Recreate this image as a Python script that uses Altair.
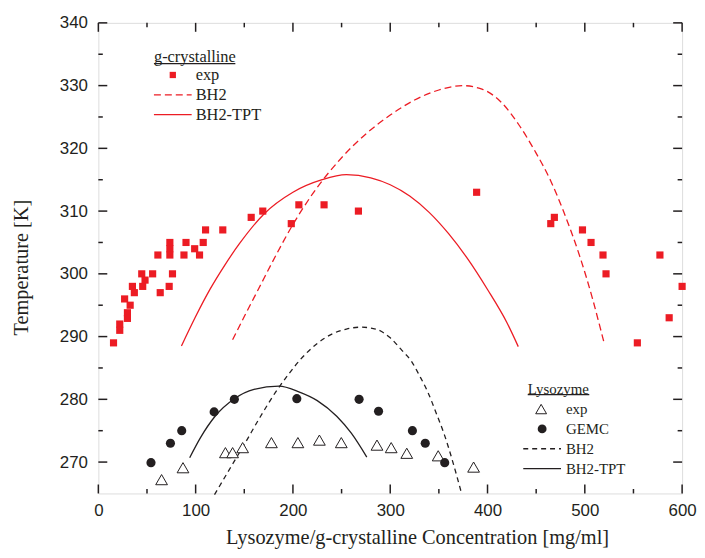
import altair as alt
import pandas as pd

# ---------------- data ----------------
# g-crystalline experiment (red squares)
gc_exp_x = [15.6, 22, 22, 27, 29.9, 29.9, 32.7, 35, 37, 44.6, 45.6, 48, 55.8, 61.2, 63.6,
            72.8, 73.5, 73.5, 73.5, 76.2, 88, 90.1, 99, 104, 107.8, 110.2, 127.9, 157.1,
            169, 198.3, 206.1, 232, 267.3, 388.8, 465, 468.7, 497.6, 506.4, 518.7, 521.8,
            554, 577.2, 586.7, 600]
gc_exp_y = [289, 292, 291, 296, 293.8, 292.9, 295, 298, 297, 300, 298, 299, 300, 303, 297,
            298, 305, 304, 303, 300, 303, 305, 304, 303, 305, 307, 307, 309,
            310, 308, 311, 311, 310, 313, 308, 309, 307, 305, 303, 300,
            289, 303, 293, 298]

# g-crystalline BH2 (red dashed)
gc_bh2_x = [138, 150, 165, 182, 199, 220, 250, 275, 300, 325, 350, 374, 395, 415,
            432, 449, 465, 478, 495, 508, 516, 519.5]
gc_bh2_y = [289.5, 293.2, 297.7, 302.8, 307.6, 312.7, 318.5, 322.3, 325.3, 327.7, 329.3,
            330.0, 329.4, 327.2, 323.8, 319.5, 314.8, 310.0, 302.7, 296.0, 291.3, 289.2]

# g-crystalline BH2-TPT (red solid)
gc_tpt_x = [85.4, 100, 115, 130, 145, 170, 200, 230, 255, 280, 300, 320, 340, 360, 380,
            400, 420, 431.6]
gc_tpt_y = [288.5, 293.2, 297.6, 301.4, 304.8, 309.5, 313.0, 315.0, 315.8, 315.3, 314.2,
            312.4, 309.8, 306.4, 302.3, 297.5, 292.2, 288.4]

# Lysozyme experiment (open triangles)
ly_exp_x = [65, 87, 130.6, 138, 148.3, 177.9, 205.1, 227.2, 249.7, 286.4, 301, 317, 349.3, 385.7]
ly_exp_y = [267.2, 269.1, 271.5, 271.5, 272.3, 273.1, 273.1, 273.5, 273.1, 272.7, 272.3,
            271.4, 271.0, 269.2]

# Lysozyme GEMC (filled circles)
ly_gemc_x = [54.1, 74.1, 85.7, 119, 139.8, 204, 268, 288, 322.8, 336, 356]
ly_gemc_y = [269.9, 273, 275, 278, 280, 280.1, 280, 278.1, 275, 273, 269.9]

# Lysozyme BH2 (black dashed)
ly_bh2_x = [119.4, 135, 150, 166, 182, 195, 208, 225, 240, 255, 270, 285, 300, 312, 321.7,
            330, 338.8, 347, 355.8, 364, 372.8]
ly_bh2_y = [264.8, 268.9, 272.8, 277.1, 281.1, 283.9, 286.4, 288.9, 290.4, 291.2, 291.5,
            291.2, 289.8, 287.8, 286.1, 283.8, 281.1, 277.9, 274.3, 270.2, 265.3]

# Lysozyme BH2-TPT (black solid)
ly_tpt_x = [93.9, 105, 120, 139.8, 160, 185.7, 206.1, 225, 245, 260, 275.9]
ly_tpt_y = [270.7, 273.9, 277.3, 280.1, 281.6, 282.1, 281.2, 279.8, 277.3, 274.6, 270.8]

x_major = [0, 100, 200, 300, 400, 500, 600]
x_minor = [50, 150, 250, 350, 450, 550]
y_major = [270, 280, 290, 300, 310, 320, 330, 340]
y_minor = [275, 285, 295, 305, 315, 325, 335]

# ---------------- styling ----------------
RED = "#ec1c24"
INK = "#231f20"
W, H = 588, 474
SERIF = "Liberation Serif"
SANS = "Liberation Sans"

xs = alt.Scale(domain=[0, 600], nice=False, zero=False)
ys = alt.Scale(domain=[265, 340], nice=False, zero=False)


def df(x, y):
    return pd.DataFrame({"x": x, "y": y})


def enc(chart, **kw):
    return chart.encode(
        x=alt.X("x:Q", scale=xs, axis=None),
        y=alt.Y("y:Q", scale=ys, axis=None),
        **kw,
    )


gc_exp = enc(alt.Chart(df(gc_exp_x, gc_exp_y)).mark_point(
    shape="square", filled=True, color=RED, size=52, opacity=1))
gc_bh2 = enc(alt.Chart(df(gc_bh2_x, gc_bh2_y)).mark_line(
    color=RED, strokeWidth=1.3, strokeDash=[7, 4], interpolate="monotone"))
gc_tpt = enc(alt.Chart(df(gc_tpt_x, gc_tpt_y)).mark_line(
    color=RED, strokeWidth=1.3, interpolate="monotone"))
ly_exp = enc(alt.Chart(df(ly_exp_x, ly_exp_y)).mark_point(
    shape="triangle-up", filled=False, color=INK, fill="white", fillOpacity=1,
    size=140, strokeWidth=1, opacity=1))
ly_gemc = enc(alt.Chart(df(ly_gemc_x, ly_gemc_y)).mark_point(
    shape="circle", filled=True, color=INK, size=85, opacity=1))
ly_bh2 = enc(alt.Chart(df(ly_bh2_x, ly_bh2_y)).mark_line(
    color=INK, strokeWidth=1.3, strokeDash=[5, 4], interpolate="monotone"))
ly_tpt = enc(alt.Chart(df(ly_tpt_x, ly_tpt_y)).mark_line(
    color=INK, strokeWidth=1.3, interpolate="monotone"))

# ---------------- axes: labels + titles ----------------
ax_main = alt.Chart(df(gc_exp_x, gc_exp_y)).mark_point(opacity=0).encode(
    x=alt.X("x:Q", scale=xs, axis=alt.Axis(
        orient="bottom", values=x_major, ticks=False, domain=False, grid=False,
        labelFont=SANS, labelFontSize=17, labelColor=INK, labelPadding=9,
        labelFlush=False,
        title="Lysozyme/g-crystalline Concentration [mg/ml]",
        titleFont=SERIF, titleFontSize=20.5, titleFontWeight="normal",
        titleColor=INK, titleX=321, titleY=44, titleBaseline="middle",
        titleAlign="center")),
    y=alt.Y("y:Q", scale=ys, axis=alt.Axis(
        orient="left", values=y_major, ticks=False, domain=False, grid=False,
        labelFont=SANS, labelFontSize=17, labelColor=INK, labelPadding=11,
        labelFlush=False,
        title="Temperature [K]", titleFont=SERIF, titleFontSize=20.5,
        titleFontWeight="normal", titleColor=INK, titleX=-77, titleY=246,
        titleAngle=270, titleBaseline="middle", titleAlign="center")),
)

# ---------------- inward ticks on all four sides ----------------


def xticks(vals, y1, y2):
    return alt.Chart(pd.DataFrame({"v": vals})).mark_rule(color=INK, strokeWidth=1.5).encode(
        x=alt.X("v:Q", scale=xs, axis=None), y=alt.value(y1), y2=alt.value(y2))


def yticks(vals, x1, x2):
    return alt.Chart(pd.DataFrame({"v": vals})).mark_rule(color=INK, strokeWidth=1.5).encode(
        y=alt.Y("v:Q", scale=ys, axis=None), x=alt.value(x1), x2=alt.value(x2))


ticks = [
    xticks(x_major, H, H - 9), xticks(x_minor, H, H - 4.5),
    xticks(x_major, 0, 9), xticks(x_minor, 0, 4.5),
    yticks(y_major, 0, 9), yticks(y_minor, 0, 4.5),
    yticks(y_major, W, W - 9), yticks(y_minor, W, W - 4.5),
]

# ---------------- hand-made legends ----------------
one = pd.DataFrame({"k": [0]})


def txt(s, x, y, size):
    return alt.Chart(one).mark_text(
        text=s, font=SERIF, fontSize=size, color=INK, align="left", baseline="middle"
    ).encode(x=alt.value(x), y=alt.value(y))


def seg(x1, x2, y, color, dash=None):
    kw = dict(color=color, strokeWidth=1.3)
    if dash:
        kw["strokeDash"] = dash
    return alt.Chart(one).mark_rule(**kw).encode(
        x=alt.value(x1), x2=alt.value(x2), y=alt.value(y))


def sym(x, y, shape, color, size, filled=True):
    kw = dict(shape=shape, color=color, size=size, opacity=1)
    if filled:
        kw["filled"] = True
    else:
        kw.update(filled=False, fill="white", fillOpacity=1, strokeWidth=1)
    return alt.Chart(one).mark_point(**kw).encode(x=alt.value(x), y=alt.value(y))


legend = [
    txt("g-crystalline", 56, 34, 16.5),
    seg(56, 138, 41, INK),
    sym(75, 52.5, "square", RED, 40),
    txt("exp", 98, 52.5, 16.5),
    seg(56, 94, 72.5, RED, [7, 4]),
    txt("BH2", 98, 72.5, 16.5),
    seg(56, 94, 92.5, RED),
    txt("BH2-TPT", 98, 92.5, 16.5),
    txt("Lysozyme", 432.5, 368.5, 15),
    seg(432.5, 494.5, 374.5, INK),
    sym(446, 389, "triangle-up", INK, 120, filled=False),
    txt("exp", 471, 389, 15),
    sym(447, 409, "circle", INK, 80),
    txt("GEMC", 471, 409, 15),
    seg(428, 466, 429, INK, [5, 4]),
    txt("BH2", 471, 429, 15),
    seg(428, 466, 449, INK),
    txt("BH2-TPT", 471, 449, 15),
]

chart = alt.layer(
    ax_main, *ticks,
    gc_tpt, gc_bh2, ly_tpt, ly_bh2, gc_exp, ly_exp, ly_gemc,
    *legend,
).resolve_axis(
    x="independent", y="independent"
).properties(
    width=W, height=H,
    autosize=alt.AutoSizeParams(type="none"),
    padding={"left": 91, "top": 13, "right": 15, "bottom": 55},
).configure_view(
    stroke=INK, strokeWidth=1.6
).configure(background="white")

chart.save("out.html", embed_options={"renderer": "svg", "actions": False})
